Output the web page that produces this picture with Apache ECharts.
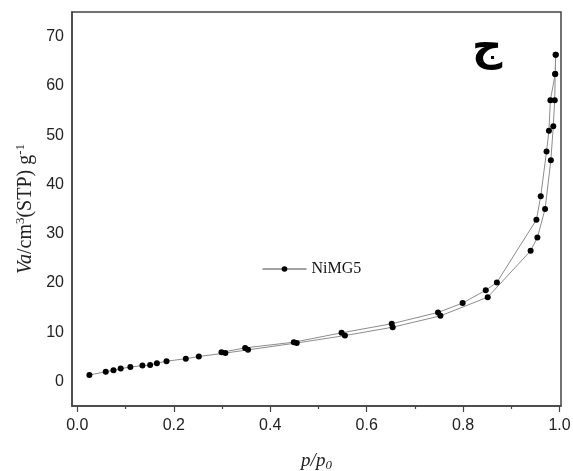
<!DOCTYPE html>
<html>
<head>
<meta charset="utf-8">
<script src="https://cdn.jsdelivr.net/npm/echarts@6/dist/echarts.min.js"></script>
<style>html,body{margin:0;padding:0;background:#fff}#c{width:573px;height:471px}</style>
</head>
<body>
<div id="c"></div>
<script>
// Adsorption branch (lower)
const adsP = [0.025,0.059,0.075,0.090,0.110,0.135,0.151,0.165,0.185,0.225,0.252,0.307,0.354,0.455,0.555,0.654,0.753,0.851,0.940,0.954,0.970,0.982,0.987,0.990,0.991,0.992];
const adsV = [1.29,1.97,2.24,2.59,2.9,3.2,3.3,3.7,4.1,4.6,5.05,5.75,6.4,7.8,9.3,11.0,13.3,17.1,26.5,29.2,35.0,44.9,51.8,57.1,62.4,66.3];
// Desorption branch (upper)
const desP = [0.992,0.991,0.981,0.978,0.973,0.961,0.952,0.870,0.847,0.799,0.748,0.652,0.548,0.449,0.348,0.299];
const desV = [66.3,62.4,57.1,50.9,46.7,37.6,32.8,20.1,18.5,15.9,14.0,11.7,9.86,7.96,6.8,5.9];
const xMajor = [0,0.2,0.4,0.6,0.8,1.0];
const xMinor = [0.1,0.3,0.5,0.7,0.9];
const seriesName = 'NiMG5';
const cornerLabel = 'ج';

const zip = (a,b) => a.map((v,i)=>[v,b[i]]);
const chart = echarts.init(document.getElementById('c'));
const lineCol = '#8c8c8c';
const base = {
  type:'line', name: seriesName, symbol:'circle', symbolSize:6,
  itemStyle:{color:'#000'}, lineStyle:{color:lineCol,width:1}, z:3, animation:false
};
chart.setOption({
  animation:false,
  grid:{left:72,right:12,top:12,bottom:65,show:true,borderColor:'#444',borderWidth:1.5,backgroundColor:'transparent',
    containLabel:false, outerBoundsMode:'none'},
  legend:{
    left:257, top:256, itemWidth:44, itemHeight:7, itemGap:4,
    data:[{name:seriesName}],
    textStyle:{fontFamily:'Liberation Serif',fontSize:16,color:'#111'},
    lineStyle:{color:'#444',width:1},
    itemStyle:{color:'#000'}
  },
  xAxis:[{
    type:'value', min:-0.011, max:1.003,
    axisLine:{show:true,onZero:false,lineStyle:{color:'#444',width:1.5}},
    axisTick:{show:true,inside:false,length:6,lineStyle:{color:'#444',width:1.2},customValues:xMajor},
    axisLabel:{show:true,customValues:xMajor,fontFamily:'Liberation Sans',fontSize:16,color:'#222',margin:12,
      formatter:v=>v.toFixed(1)},
    splitLine:{show:false},
    name:'{i|p/p}{s|0}', nameLocation:'middle', nameGap:44,
    nameTextStyle:{rich:{
      i:{fontFamily:'Liberation Serif',fontStyle:'italic',fontSize:19,color:'#222'},
      s:{fontFamily:'Liberation Serif',fontStyle:'italic',fontSize:13,color:'#222',verticalAlign:'bottom',padding:[9,0,0,0]}
    }}
  },{
    type:'value', min:-0.011, max:1.003, position:'bottom',
    axisLine:{show:false,onZero:false},
    axisTick:{show:true,inside:false,length:3,lineStyle:{color:'#444',width:1.2},customValues:xMinor},
    axisLabel:{show:false},
    splitLine:{show:false}
  }],
  yAxis:{
    type:'value', min:-5, max:75, interval:5,
    axisLine:{show:true,onZero:false,lineStyle:{color:'#444',width:1.5}},
    axisTick:{show:false},
    axisLabel:{fontFamily:'Liberation Sans',fontSize:16,color:'#222',margin:8,
      formatter:v=> (v%10===0 ? String(v) : '')},
    splitLine:{show:false},
    name:'{i|Va}{n|/cm}{s|3}{n|(STP) g}{s|-1}', nameLocation:'middle', nameGap:26, nameRotate:90,
    nameTextStyle:{rich:{
      i:{fontFamily:'Liberation Serif',fontStyle:'italic',fontSize:20,color:'#222'},
      n:{fontFamily:'Liberation Serif',fontSize:20,color:'#222'},
      s:{fontFamily:'Liberation Serif',fontSize:13,color:'#222',verticalAlign:'top',padding:[0,0,9,0]}
    }}
  },
  graphic:[{
    type:'text', left:472, top:28,
    style:{text:cornerLabel,font:'bold 42px "DejaVu Sans"',fill:'#000'}
  }],
  series:[
    Object.assign({}, base, {data: zip(adsP,adsV)}),
    Object.assign({}, base, {data: zip(desP,desV)})
  ]
});
</script>
</body>
</html>
